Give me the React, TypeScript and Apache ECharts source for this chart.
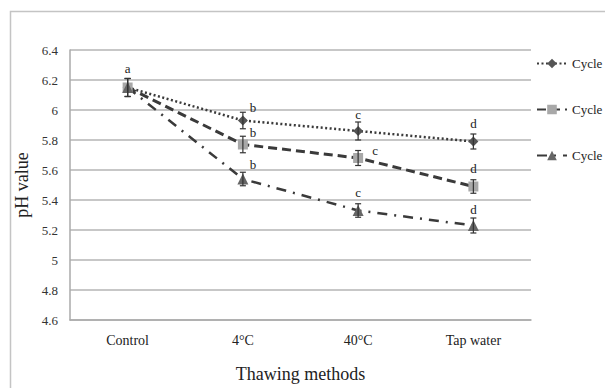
import React, { useEffect, useRef } from "react";
import * as echarts from "echarts";

const categories = ["Control", "4°C", "40°C", "Tap water"];
const seriesNames = ["Cycle 1", "Cycle 2", "Cycle 3"];
const cycle1 = [6.15, 5.93, 5.86, 5.79];
const cycle2 = [6.15, 5.77, 5.68, 5.49];
const cycle3 = [6.15, 5.54, 5.33, 5.23];
const err1 = [0.06, 0.055, 0.06, 0.05];
const err2 = [0.06, 0.055, 0.05, 0.045];
const err3 = [0.06, 0.045, 0.045, 0.05];
const yTicks = [4.6, 4.8, 5, 5.2, 5.4, 5.6, 5.8, 6, 6.2, 6.4];

// significance letters: [category index, y value, letter]
const letterCats = [0, 1, 1, 1, 2, 2, 2, 3, 3, 3];
const letterValues = [6.28, 6.02, 5.85, 5.64, 5.97, 5.73, 5.45, 5.91, 5.61, 5.34];
const letterTexts = ["a", "b", "b", "b", "c", "c", "c", "d", "d", "d"];
const letterShift = [0, 10, 10, 10, 0, 17, 0, 0, 0, 0];

const FONT = "Liberation Serif";

function errorSeries(values: number[], errs: number[]) {
  return {
    type: "custom",
    silent: true,
    z: 5,
    data: values.map((v, i) => [i, v - errs[i], v + errs[i]]),
    renderItem: (params: any, api: any) => {
      const lo = api.coord([api.value(0), api.value(1)]);
      const hi = api.coord([api.value(0), api.value(2)]);
      const style = { stroke: "#333", lineWidth: 1.2 };
      const w = 3;
      return {
        type: "group",
        children: [
          { type: "line", shape: { x1: lo[0], y1: lo[1], x2: hi[0], y2: hi[1] }, style },
          { type: "line", shape: { x1: lo[0] - w, y1: lo[1], x2: lo[0] + w, y2: lo[1] }, style },
          { type: "line", shape: { x1: hi[0] - w, y1: hi[1], x2: hi[0] + w, y2: hi[1] }, style },
        ],
      };
    },
  };
}

export default function App() {
  const ref = useRef<HTMLDivElement>(null);
  useEffect(() => {
    if (!ref.current) return;
    const chart = echarts.init(ref.current, null, { renderer: "svg" });
    const option: any = {
      animation: false,
      backgroundColor: "#fff",
      textStyle: { fontFamily: FONT },
      graphic: [
        {
          type: "rect",
          shape: { x: 10.5, y: 11.5, width: 700, height: 500 },
          style: { fill: "none", stroke: "#c4c4c4", lineWidth: 1.5 },
          z: -1,
        },
      ],
      grid: { left: 70, right: 74, top: 50, bottom: 66 },
      legend: {
        orient: "vertical",
        left: 531,
        top: 52,
        itemGap: 33,
        itemWidth: 30,
        itemHeight: 12,
        textStyle: { fontFamily: FONT, fontSize: 13, color: "#222" },
        data: seriesNames,
      },
      xAxis: {
        type: "category",
        data: categories,
        boundaryGap: true,
        axisLine: { lineStyle: { color: "#aaa", width: 1.5 } },
        axisTick: { show: false },
        axisLabel: { fontFamily: FONT, fontSize: 14, color: "#222", margin: 13 },
        name: "Thawing methods",
        nameLocation: "middle",
        nameGap: 45,
        nameTextStyle: { fontFamily: FONT, fontSize: 18, color: "#222" },
      },
      yAxis: {
        type: "value",
        min: yTicks[0],
        max: yTicks[yTicks.length - 1],
        interval: 0.2,
        axisLine: { show: true, lineStyle: { color: "#aaa", width: 1.5 } },
        axisTick: { show: false },
        splitLine: { lineStyle: { color: "#b5b5b5", width: 1.5 } },
        axisLabel: {
          fontFamily: FONT,
          fontSize: 13,
          color: "#333",
          margin: 12,
          formatter: (v: number) => String(Math.round(v * 10) / 10),
        },
        name: "pH value",
        nameLocation: "middle",
        nameGap: 31,
        nameRotate: 90,
        nameTextStyle: { fontFamily: FONT, fontSize: 18, color: "#222" },
      },
      series: [
        {
          name: seriesNames[0],
          type: "line",
          data: cycle1,
          symbol: "diamond",
          symbolSize: 10,
          itemStyle: { color: "#555" },
          lineStyle: { color: "#3a3a3a", width: 2.5, type: [2, 2.5] },
          z: 3,
        },
        {
          name: seriesNames[1],
          type: "line",
          data: cycle2,
          symbol: "rect",
          symbolSize: 10,
          itemStyle: { color: "#a8a8a8" },
          lineStyle: { color: "#3a3a3a", width: 3, type: [9, 5] },
          z: 3,
        },
        {
          name: seriesNames[2],
          type: "line",
          data: cycle3,
          symbol: "triangle",
          symbolSize: 11,
          itemStyle: { color: "#666" },
          lineStyle: { color: "#3a3a3a", width: 2.5, type: [10, 7, 2, 7] },
          z: 3,
        },
        errorSeries(cycle1, err1),
        errorSeries(cycle2, err2),
        errorSeries(cycle3, err3),
        {
          type: "custom",
          silent: true,
          z: 6,
          data: letterCats.map((c, i) => [c, letterValues[i]]),
          renderItem: (params: any, api: any) => {
            const p = api.coord([api.value(0), api.value(1)]);
            const i = params.dataIndex;
            return {
              type: "text",
              x: p[0] + letterShift[i],
              y: p[1],
              style: {
                text: letterTexts[i],
                fontFamily: FONT,
                fontSize: 13,
                fill: "#222",
                align: "center",
                verticalAlign: "middle",
              },
            };
          },
        },
      ],
    };
    chart.setOption(option);
    return () => chart.dispose();
  }, []);
  return (
    <div
      ref={ref}
      style={{ position: "absolute", left: 0, top: 0, width: 605, height: 388 }}
    />
  );
}
